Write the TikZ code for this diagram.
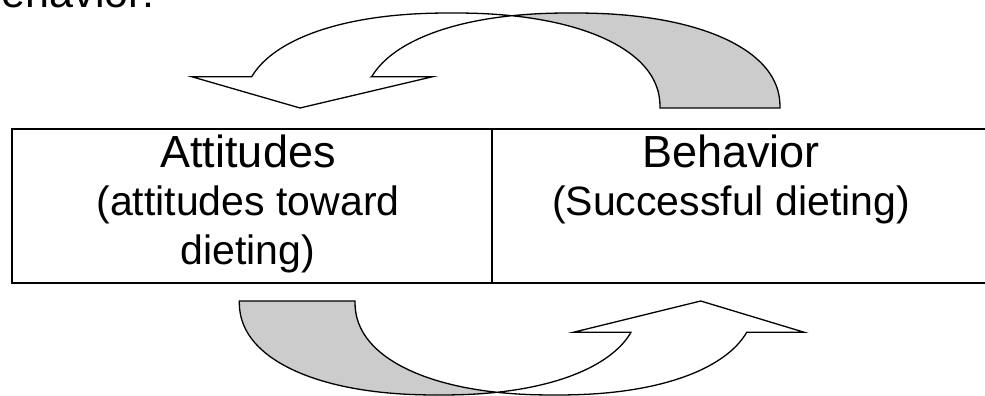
\documentclass[tikz,border=0pt]{standalone}
\usepackage{fontspec}
\setmainfont{Liberation Sans}
\definecolor{bandgray}{HTML}{CCCCCC}
\begin{document}
\begin{tikzpicture}[x=1pt,y=1pt,
  declare function={
    sx(\t)=(cos(\t)>=0?1:-1)*(abs(cos(\t))+0.000001)^0.9;
    sy(\t)=(sin(\t)>=0?1:-1)*(abs(sin(\t))+0.000001)^0.9;},
  tableline/.style={line width=2.2pt, line cap=rect},
  bandfront/.style={draw=black, fill=white, line width=1.3pt, line join=miter},
  bandback/.style={draw=black, fill=bandgray, line width=1.3pt, line join=miter},
  titletext/.style={anchor=base, inner sep=0pt, font=\fontsize{45}{54}\selectfont},
  subtext/.style={anchor=base, inner sep=0pt, font=\fontsize{41}{49}\selectfont},
  headtext/.style={anchor=base east, inner sep=0pt, font=\fontsize{43}{52}\selectfont}]
\useasboundingbox (0,0) rectangle (985,396);
\clip (0,0) rectangle (985,396);

% heading fragment at the top
\node[headtext] (head) at (155,388) {behavior:};

% table
\draw[tableline] (985,267) -- (11.7,267) -- (11.7,112.7) -- (985,112.7);
\draw[tableline] (492,267) -- (492,112.7);

\node[titletext] (att) at (248,228) {Attitudes};
\node[subtext] (att2) at (248,180) {(attitudes toward};
\node[subtext] (att3) at (248,131) {dieting)};
\node[titletext] (beh) at (731,228) {Behavior};
\node[subtext] (beh2) at (731,180) {(Successful dieting)};

% top curved arrow (pointing down-left): curves A (451.8) and B (571.8)
\draw[bandback] plot[domain=104.54:0, samples=90] ({571.8+208.2*sx(\x)},{288+95*sy(\x)})
  -- (660,288)
  -- plot[domain=0:75.46, samples=90] ({451.8+208.2*sx(\x)},{288+95*sy(\x)}) -- cycle;
\draw[bandfront] (371.7,319.3) -- (432.7,319.3) -- (300,288) -- (191.7,319.3) -- (251.7,319.3)
  -- plot[domain=163.06:75.46, samples=90] ({451.8+208.2*sx(\x)},{288+95*sy(\x)})
  -- plot[domain=104.54:163.06, samples=90] ({571.8+208.2*sx(\x)},{288+95*sy(\x)}) -- cycle;

% bottom curved arrow (pointing up-right): curves A' (554.85) and B' (439.15)
\draw[bandback] plot[domain=180:284.61, samples=90] ({439.15+199.85*sx(\x)},{95+94*sy(\x)})
  -- plot[domain=255.39:180, samples=90] ({554.85+199.85*sx(\x)},{95+94*sy(\x)}) -- cycle;
\draw[bandfront] (631,63.7) -- (573.3,63.7) -- (700.7,95) -- (804.3,63.7) -- (746.7,63.7)
  -- plot[domain=-17.15:-104.61, samples=90] ({554.85+199.85*sx(\x)},{95+94*sy(\x)})
  -- plot[domain=-75.39:-17.15, samples=90] ({439.15+199.85*sx(\x)},{95+94*sy(\x)}) -- cycle;
\end{tikzpicture}
\end{document}
